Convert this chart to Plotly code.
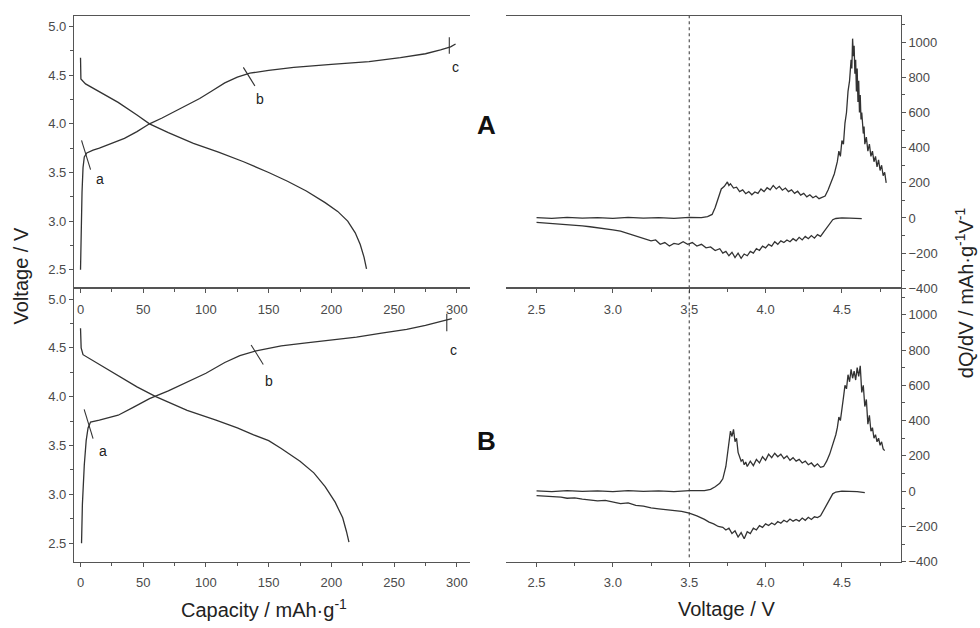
import plotly.graph_objects as go

# ---------------- DATA ----------------
# Panel A: voltage profiles (capacity mAh/g, voltage V)
chgA_cap = [0, 0.5, 1.2, 2, 3, 5, 10, 15, 25, 35, 45, 55, 65, 80, 95, 105, 115, 125, 135, 150, 170, 200, 230, 255, 275, 287, 295, 299]
chgA_v = [2.5, 2.9, 3.3, 3.55, 3.66, 3.70, 3.73, 3.75, 3.80, 3.85, 3.92, 4.00, 4.06, 4.16, 4.26, 4.34, 4.42, 4.48, 4.52, 4.55, 4.58, 4.61, 4.64, 4.68, 4.72, 4.76, 4.79, 4.82]
disA_cap = [0, 0.3, 4, 15, 30, 45, 55, 70, 90, 110, 130, 150, 165, 180, 195, 205, 213, 219, 223, 226, 228]
disA_v = [4.68, 4.46, 4.41, 4.33, 4.22, 4.09, 4.00, 3.91, 3.80, 3.71, 3.61, 3.50, 3.41, 3.31, 3.19, 3.10, 3.00, 2.88, 2.76, 2.63, 2.51]

# Panel B: voltage profiles
chgB_cap = [0.8, 1.5, 3, 4.5, 6, 8, 15, 30, 42, 55, 70, 85, 100, 115, 127, 140, 160, 180, 200, 220, 240, 260, 275, 288, 296]
chgB_v = [2.5, 2.9, 3.3, 3.55, 3.68, 3.74, 3.76, 3.81, 3.89, 3.98, 4.06, 4.15, 4.24, 4.35, 4.42, 4.47, 4.52, 4.55, 4.58, 4.61, 4.65, 4.69, 4.73, 4.77, 4.80]
disB_cap = [0, 0.5, 2, 15, 31, 45, 60, 85, 108, 125, 138, 150, 160, 175, 186, 195, 203, 209, 212, 214]
disB_v = [4.70, 4.50, 4.43, 4.33, 4.20, 4.10, 4.00, 3.86, 3.76, 3.68, 3.61, 3.55, 3.47, 3.34, 3.22, 3.08, 2.92, 2.76, 2.62, 2.51]

# State markers a, b, c (short tick segments on the charge curves) and their labels
markA_a = ([0.8, 8.0], [3.83, 3.53])
markA_b = ([129.8, 139.0], [4.58, 4.39])
markA_c = ([294, 294], [4.89, 4.72])
markB_a = ([2.9, 10.0], [3.87, 3.57])
markB_b = ([136.0, 145.7], [4.53, 4.33])
markB_c = ([292, 292], [4.85, 4.67])
labels_abc = ["a", "b", "c"]
labA_cap = [15.5, 143, 299]
labA_v = [3.43, 4.26, 4.58]
labB_cap = [18, 150, 297]
labB_v = [3.44, 4.16, 4.48]

# Panel A: dQ/dV (voltage V, dQ/dV mAh g-1 V-1)
dqA_chg_v = [2.50, 2.60, 2.70, 2.80, 2.90, 3.00, 3.10, 3.20, 3.30, 3.40, 3.50, 3.58, 3.62, 3.65, 3.67, 3.69, 3.71, 3.73, 3.75, 3.76, 3.77, 3.79, 3.81, 3.83, 3.85, 3.87, 3.89, 3.91, 3.93, 3.95, 3.97, 3.99, 4.01, 4.03, 4.05, 4.07, 4.09, 4.11, 4.13, 4.15, 4.17, 4.19, 4.21, 4.23, 4.25, 4.27, 4.29, 4.31, 4.33, 4.35, 4.37, 4.39, 4.41, 4.43, 4.45, 4.47, 4.48, 4.49, 4.50, 4.51, 4.52, 4.53, 4.54, 4.55, 4.56, 4.565, 4.57, 4.575, 4.58, 4.585, 4.59, 4.595, 4.60, 4.605, 4.61, 4.615, 4.62, 4.625, 4.63, 4.64, 4.645, 4.65, 4.66, 4.67, 4.68, 4.69, 4.70, 4.71, 4.72, 4.73, 4.74, 4.75, 4.76, 4.77, 4.78, 4.79]
dqA_chg = [2, -2, 3, -1, 2, -2, 3, -1, 2, -2, 3, 2, 8, 20, 60, 120, 165, 180, 205, 185, 195, 170, 175, 150, 160, 138, 150, 132, 148, 140, 165, 150, 172, 160, 185, 165, 180, 158, 170, 150, 160, 140, 152, 130, 140, 120, 132, 115, 125, 110, 118, 125, 160, 200, 250, 320, 380, 350, 440, 420, 540, 600, 720, 780, 900, 850, 1020, 920, 980, 820, 900, 720, 850, 660, 780, 600, 700, 560, 600, 480, 520, 420, 460, 380, 420, 350, 380, 320, 350, 290, 330, 270, 300, 240, 260, 200]
dqA_dis_v = [2.50, 2.55, 2.60, 2.65, 2.70, 2.75, 2.80, 2.85, 2.90, 2.95, 3.00, 3.05, 3.10, 3.15, 3.20, 3.25, 3.28, 3.31, 3.34, 3.37, 3.40, 3.43, 3.46, 3.49, 3.52, 3.55, 3.58, 3.61, 3.64, 3.67, 3.70, 3.72, 3.74, 3.76, 3.78, 3.80, 3.82, 3.84, 3.86, 3.88, 3.90, 3.92, 3.94, 3.96, 3.98, 4.00, 4.02, 4.04, 4.06, 4.08, 4.10, 4.12, 4.14, 4.16, 4.18, 4.20, 4.22, 4.24, 4.26, 4.28, 4.30, 4.32, 4.34, 4.36, 4.38, 4.40, 4.42, 4.44, 4.46, 4.50, 4.55, 4.60, 4.63]
dqA_dis = [-25, -28, -30, -32, -38, -40, -45, -50, -55, -60, -68, -75, -88, -100, -115, -130, -125, -150, -140, -160, -145, -150, -135, -150, -140, -160, -150, -170, -165, -185, -175, -200, -190, -215, -195, -225, -200, -230, -205, -215, -190, -200, -175, -185, -160, -170, -150, -160, -135, -150, -130, -140, -125, -135, -118, -130, -110, -125, -105, -118, -100, -115, -95, -105, -80, -55, -30, -10, -3, 0, -1, -2, -4]

# Panel B: dQ/dV
dqB_chg_v = [2.50, 2.60, 2.70, 2.80, 2.90, 3.00, 3.10, 3.20, 3.30, 3.40, 3.50, 3.60, 3.64, 3.67, 3.70, 3.72, 3.74, 3.76, 3.77, 3.78, 3.79, 3.80, 3.81, 3.82, 3.83, 3.84, 3.85, 3.86, 3.87, 3.88, 3.90, 3.92, 3.94, 3.96, 3.98, 4.00, 4.02, 4.04, 4.06, 4.08, 4.10, 4.12, 4.14, 4.16, 4.18, 4.20, 4.22, 4.24, 4.26, 4.28, 4.30, 4.32, 4.34, 4.36, 4.38, 4.40, 4.42, 4.44, 4.46, 4.47, 4.48, 4.49, 4.50, 4.51, 4.52, 4.53, 4.54, 4.55, 4.56, 4.57, 4.58, 4.59, 4.60, 4.61, 4.62, 4.63, 4.64, 4.65, 4.66, 4.67, 4.68, 4.69, 4.70, 4.71, 4.72, 4.73, 4.74, 4.75, 4.76, 4.77, 4.78]
dqB_chg = [2, -2, 3, -1, 2, -2, 3, -1, 2, -2, 3, 3, 10, 25, 45, 70, 140, 260, 340, 310, 350, 280, 300, 220, 200, 170, 180, 150, 165, 140, 170, 145, 180, 160, 195, 175, 210, 190, 215, 195, 210, 185, 200, 175, 190, 170, 180, 160, 170, 150, 160, 140, 155, 135, 140, 170, 210, 260, 320, 360, 420, 400, 480, 530, 600, 580, 660, 620, 690, 640, 680, 630, 700, 650, 710, 560, 600, 480, 520, 380, 430, 340, 360, 300, 320, 280, 300, 260, 280, 240, 230]
dqB_dis_v = [2.50, 2.60, 2.66, 2.70, 2.75, 2.80, 2.85, 2.90, 2.95, 3.00, 3.05, 3.10, 3.15, 3.20, 3.25, 3.30, 3.35, 3.40, 3.45, 3.50, 3.55, 3.60, 3.63, 3.66, 3.69, 3.72, 3.74, 3.76, 3.78, 3.80, 3.82, 3.84, 3.86, 3.88, 3.90, 3.92, 3.94, 3.96, 3.98, 4.00, 4.02, 4.04, 4.06, 4.08, 4.10, 4.12, 4.14, 4.16, 4.18, 4.20, 4.22, 4.24, 4.26, 4.28, 4.30, 4.32, 4.34, 4.36, 4.38, 4.40, 4.42, 4.44, 4.46, 4.50, 4.55, 4.60, 4.65]
dqB_dis = [-25, -30, -34, -40, -38, -45, -48, -55, -52, -62, -70, -66, -80, -85, -95, -100, -105, -110, -115, -125, -140, -160, -175, -185, -200, -205, -220, -210, -240, -225, -260, -235, -270, -230, -240, -210, -220, -195, -205, -185, -195, -180, -190, -172, -182, -165, -175, -158, -170, -160, -170, -152, -165, -148, -160, -145, -150, -140, -110, -80, -45, -15, -5, 0, -1, -2, -8]

ref_voltage = 3.5

# ---------------- STYLE ----------------
FONT = "Arial, Liberation Sans, Helvetica, sans-serif"
LINE = "#333333"
AX = "#555555"
TICKC = "#4a4a4a"

W, H = 980, 628
def px(x):
    return x / W
def py(y):
    return 1 - y / H

left_dom = [px(74), px(470)]
right_dom = [px(506), px(900.7)]
top_dom = [py(292), py(16)]
bot_dom = [py(569), py(292)]

cap_range = [-5.2, 310.5]
volt_range = [2.31, 5.11]
dv_range = [2.30, 4.885]
dq_range = [-400, 1150]

fig = go.Figure()

def add_line(x, y, xa, ya, width=1.3, dash=None):
    fig.add_trace(go.Scatter(x=x, y=y, xaxis=xa, yaxis=ya, mode="lines",
                             line=dict(color=LINE, width=width, dash=dash),
                             showlegend=False, hoverinfo="skip"))

# left panels
add_line(chgA_cap, chgA_v, "x", "y")
add_line(disA_cap, disA_v, "x", "y")
for m in (markA_a, markA_b, markA_c):
    add_line(m[0], m[1], "x", "y", width=1.1)
add_line(chgB_cap, chgB_v, "x3", "y3")
add_line(disB_cap, disB_v, "x3", "y3")
for m in (markB_a, markB_b, markB_c):
    add_line(m[0], m[1], "x3", "y3", width=1.1)

# right panels
add_line(dqA_chg_v, dqA_chg, "x2", "y2", width=1.3)
add_line(dqA_dis_v, dqA_dis, "x2", "y2", width=1.3)
add_line(dqB_chg_v, dqB_chg, "x4", "y4", width=1.3)
add_line(dqB_dis_v, dqB_dis, "x4", "y4", width=1.3)

# dashed reference line across both dQ/dV panels
add_line([ref_voltage, ref_voltage], dq_range, "x2", "y2", width=1.0, dash="3px,3px")
add_line([ref_voltage, ref_voltage], [dq_range[0] + 25, dq_range[1]], "x4", "y4", width=1.0, dash="3px,3px")

def xax(dom, anchor, rng, dtick, minor, fmt):
    return dict(domain=dom, anchor=anchor, range=rng, showgrid=False, zeroline=False,
                showline=True, linecolor=AX, linewidth=1.2, mirror=True,
                ticks="outside", ticklen=4, tickwidth=1, tickcolor=AX,
                dtick=dtick, tick0=0, tickformat=fmt,
                minor=dict(ticks="outside", ticklen=3, tickcolor=AX, dtick=minor, tick0=0),
                tickfont=dict(family=FONT, size=13, color=TICKC), ticklabelstandoff=5)

def yax(dom, anchor, rng, dtick, minor, fmt, side):
    return dict(domain=dom, anchor=anchor, range=rng, showgrid=False, zeroline=False,
                showline=True, linecolor=AX, linewidth=1.2, side=side,
                ticks="outside", ticklen=4, tickwidth=1, tickcolor=AX,
                dtick=dtick, tick0=0, tickformat=fmt,
                minor=dict(ticks="outside", ticklen=3, tickcolor=AX, dtick=minor, tick0=0),
                tickfont=dict(family=FONT, size=13, color=TICKC))

annotations = []
for lab, cx, cy in zip(labels_abc, labA_cap, labA_v):
    annotations.append(dict(text=lab, x=cx, y=cy, xref="x", yref="y", showarrow=False,
                            xanchor="center", yanchor="middle",
                            font=dict(family=FONT, size=14, color="#222")))
for lab, cx, cy in zip(labels_abc, labB_cap, labB_v):
    annotations.append(dict(text=lab, x=cx, y=cy, xref="x3", yref="y3", showarrow=False,
                            xanchor="center", yanchor="middle",
                            font=dict(family=FONT, size=14, color="#222")))

def note(text, x, y, size, angle=0, color="#222"):
    return dict(text=text, x=px(x), y=py(y), xref="paper", yref="paper", showarrow=False,
                xanchor="center", yanchor="middle", textangle=angle,
                font=dict(family=FONT, size=size, color=color))

annotations += [
    note("<b>A</b>", 486, 127, 26, color="#111"),
    note("<b>B</b>", 486, 447, 26, color="#111"),
    note("Voltage / V", 21, 280, 20, angle=-90),
    note("dQ/dV / mAh·g<sup>-1</sup>V<sup>-1</sup>", 964, 297, 20, angle=-90),
    note("Capacity / mAh·g<sup>-1</sup>", 264, 616, 20),
    note("Voltage / V", 726, 617, 20),
]

fig.update_layout(
    width=W, height=H, margin=dict(l=0, r=0, t=0, b=0),
    paper_bgcolor="white", plot_bgcolor="rgba(0,0,0,0)",
    showlegend=False,
    xaxis=xax(left_dom, "y", cap_range, 50, 25, "d"),
    yaxis=yax(top_dom, "x", volt_range, 0.5, 0.25, ".1f", "left"),
    xaxis2=xax(right_dom, "y2", dv_range, 0.5, 0.25, ".1f"),
    yaxis2=yax(top_dom, "x2", dq_range, 200, 100, "d", "right"),
    xaxis3=xax(left_dom, "y3", cap_range, 50, 25, "d"),
    yaxis3=yax(bot_dom, "x3", volt_range, 0.5, 0.25, ".1f", "left"),
    xaxis4=xax(right_dom, "y4", dv_range, 0.5, 0.25, ".1f"),
    yaxis4=yax(bot_dom, "x4", dq_range, 200, 100, "d", "right"),
    annotations=annotations,
)

fig.write_html("out.html")
